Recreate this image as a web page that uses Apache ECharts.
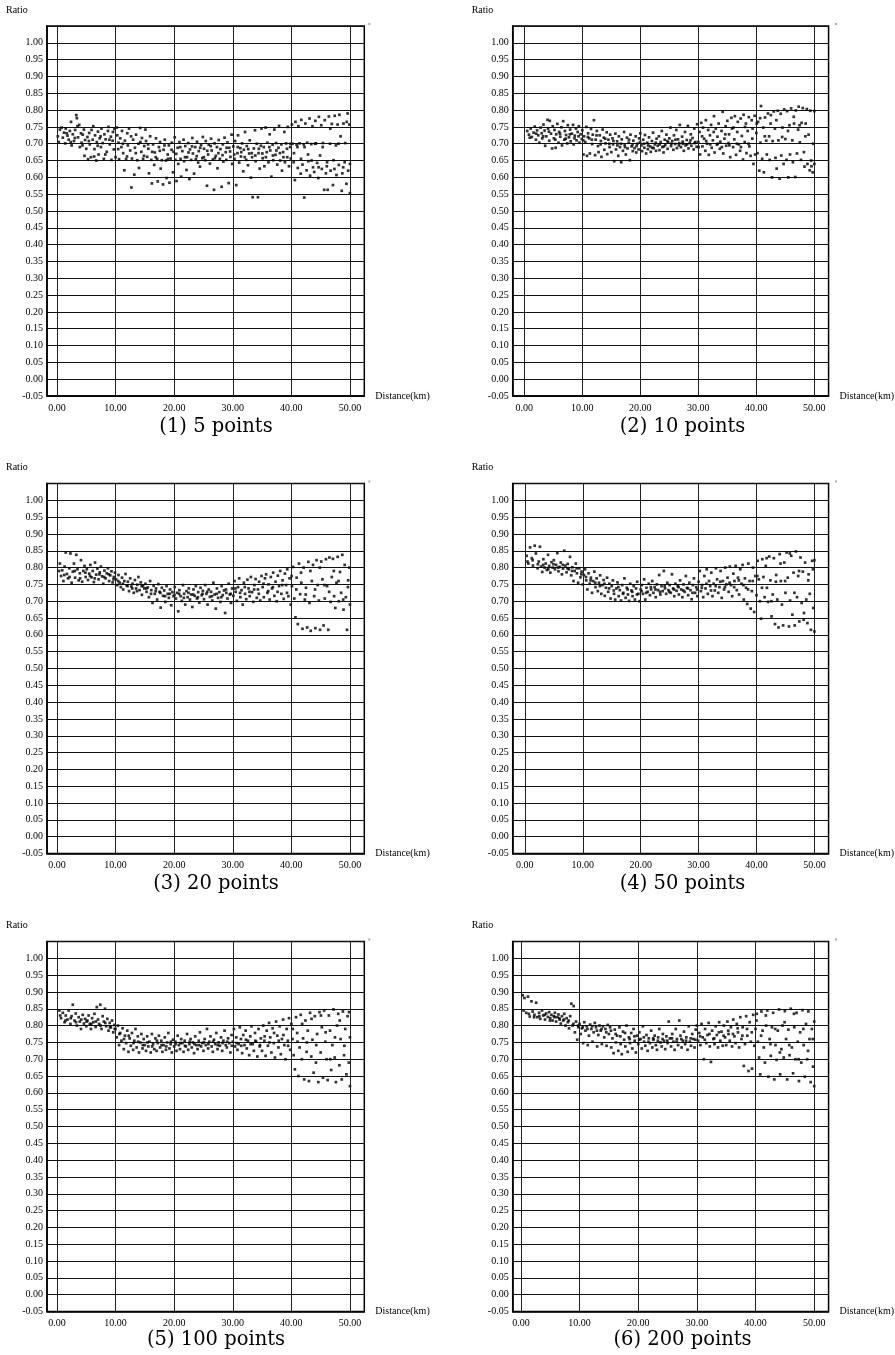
<!DOCTYPE html>
<html>
<head>
<meta charset="utf-8">
<script src="https://cdn.jsdelivr.net/npm/echarts@6/dist/echarts.min.js"></script>
<style>
html, body { margin: 0; padding: 0; background: #fff; }
#container { width: 895px; height: 1355px; }
</style>
</head>
<body>
<div id="container"></div>
<script>
// panel captions and axis ticks
var captions = ['(1) 5 points', '(2) 10 points', '(3) 20 points', '(4) 50 points', '(5) 100 points', '(6) 200 points'];
var xTicks = [0, 10, 20, 30, 40, 50];

// [distance km, ratio]
var pts5 = [
[0.3,.705],[0.5,.742],[0.8,.748],[1.0,.718],[1.2,.733],[1.4,.701],[1.5,.745],[1.8,.724],[2.0,.712],[2.2,.738],[2.4,.765],[2.5,.695],[2.7,.728],[2.9,.708],[3.1,.741],[3.3,.785],[3.4,.776],[3.5,.752],[3.6,.719],[3.8,.756],[3.9,.690],[4.1,.731],[4.2,.703],[4.4,.727],[4.6,.742],[4.7,.664],[4.8,.711],[5.0,.685],
[5.2,.720],[5.3,.654],[5.5,.732],[5.6,.698],[5.8,.660],[5.9,.741],[6.1,.712],[6.2,.752],[6.4,.684],[6.5,.725],[6.7,.650],[6.8,.705],[7.0,.736],[7.1,.668],[7.3,.716],[7.5,.690],[7.6,.745],[7.8,.702],[8.0,.655],[8.1,.728],[8.3,.713],[8.5,.676],[8.7,.738],[8.8,.750],[9.0,.698],[9.2,.721],[9.3,.652],[9.5,.709],[9.7,.683],[9.8,.744],[10.0,.660],
[10.2,.748],[10.3,.725],[10.5,.703],[10.6,.654],[10.8,.716],[11.0,.690],[11.1,.738],[11.3,.672],[11.5,.621],[11.6,.709],[11.8,.654],[12.0,.731],[12.1,.695],[12.3,.745],[12.5,.680],[12.7,.570],[12.8,.656],[13.0,.712],[13.2,.608],[13.3,.688],[13.5,.727],[13.7,.651],[13.9,.700],[14.0,.628],[14.2,.747],[14.4,.676],[14.5,.717],[14.7,.655],[14.9,.693],
[15.1,.742],[15.2,.708],[15.4,.661],[15.6,.685],[15.7,.612],[15.9,.722],[16.1,.652],[16.2,.582],[16.4,.698],[16.6,.637],[16.7,.674],[16.9,.716],[17.1,.655],[17.2,.588],[17.4,.690],[17.6,.705],[17.7,.626],[17.9,.651],[18.1,.579],[18.2,.682],[18.4,.712],[18.6,.650],[18.7,.598],[18.9,.668],[19.1,.695],[19.2,.584],[19.4,.656],[19.6,.703],[19.8,.615],[19.9,.676],
[20.1,.719],[20.2,.652],[20.4,.589],[20.6,.688],[20.7,.640],[20.9,.705],[21.1,.655],[21.2,.602],[21.4,.678],[21.6,.712],[21.7,.648],[21.9,.693],[22.1,.622],[22.2,.660],[22.4,.702],[22.6,.595],[22.7,.683],[22.9,.652],[23.1,.717],[23.2,.671],[23.4,.611],[23.6,.690],[23.7,.654],[23.9,.706],[24.1,.644],[24.2,.678],[24.4,.632],[24.6,.696],[24.8,.657],[24.9,.720],
[25.1,.685],[25.3,.651],[25.4,.708],[25.6,.575],[25.8,.668],[25.9,.697],[26.1,.641],[26.3,.715],[26.4,.680],[26.6,.653],[26.8,.563],[26.9,.701],[27.1,.664],[27.3,.690],[27.4,.627],[27.6,.711],[27.8,.655],[27.9,.684],[28.1,.572],[28.3,.698],[28.4,.647],[28.6,.718],[28.8,.675],[28.9,.652],[29.1,.704],[29.3,.583],[29.4,.688],[29.6,.661],[29.8,.727],[29.9,.640],
[30.1,.692],[30.3,.655],[30.4,.708],[30.6,.577],[30.8,.672],[30.9,.725],[31.1,.644],[31.3,.687],[31.4,.662],[31.6,.701],[31.8,.618],[31.9,.682],[32.1,.735],[32.3,.652],[32.4,.693],[32.6,.636],[32.8,.671],[32.9,.710],[33.1,.599],[33.3,.660],[33.4,.541],[33.6,.686],[33.8,.740],[33.9,.648],[34.1,.700],[34.3,.541],[34.4,.672],[34.6,.626],[34.8,.694],[34.9,.745],
[35.1,.657],[35.3,.690],[35.4,.633],[35.6,.748],[35.8,.675],[35.9,.703],[36.1,.645],[36.3,.728],[36.4,.680],[36.6,.602],[36.8,.697],[36.9,.651],[37.1,.742],[37.3,.667],[37.4,.702],[37.6,.638],[37.8,.688],[37.9,.753],[38.1,.650],[38.3,.698],[38.4,.620],[38.6,.675],[38.8,.735],[38.9,.645],[39.1,.701],[39.3,.660],[39.4,.750],[39.6,.633],[39.8,.690],[39.9,.656],
[40.1,.757],[40.2,.700],[40.4,.645],[40.6,.592],[40.7,.765],[40.9,.697],[41.1,.628],[41.2,.752],[41.4,.701],[41.6,.611],[41.7,.771],[41.9,.638],[42.1,.698],[42.2,.540],[42.4,.760],[42.6,.621],[42.7,.703],[42.9,.648],[43.1,.775],[43.2,.605],[43.4,.699],[43.6,.752],[43.7,.630],[43.9,.616],[44.1,.768],[44.2,.701],[44.4,.643],[44.6,.598],[44.7,.780],[44.9,.665],
[45.1,.755],[45.2,.625],[45.4,.702],[45.6,.563],[45.7,.770],[45.9,.612],[46.1,.645],[46.2,.563],[46.4,.781],[46.6,.700],[46.7,.620],[46.9,.759],[47.1,.577],[47.2,.651],[47.4,.783],[47.6,.695],[47.7,.607],[47.9,.757],[48.1,.637],[48.2,.786],[48.4,.722],[48.6,.560],[48.7,.612],[48.9,.760],[49.1,.645],[49.2,.702],[49.4,.581],[49.6,.790],[49.7,.620],[49.9,.757],[50.0,.553],[50.0,.640],
[0.15,.722],[1.65,.731],[2.35,.705],[3.05,.717],[4.35,.695],[5.45,.708],[6.35,.662],[6.95,.694],[7.45,.722],[8.25,.668],[8.95,.712],[9.55,.735],[10.45,.684],[11.25,.700],[11.95,.662],[12.65,.722],[13.45,.672],[14.25,.705],[14.85,.664],[15.55,.698],[16.25,.676],[16.85,.660],[17.55,.679],[18.35,.695],[18.95,.655],[19.55,.682],[20.35,.670],[21.05,.690],[21.85,.660],[22.45,.674],[23.05,.692],[23.85,.663],[24.45,.688],[25.05,.660],[25.65,.679],[26.25,.693],[26.95,.657],[27.55,.672],[28.25,.666],[28.95,.688],[29.55,.677],[30.25,.668],[30.85,.690],[31.45,.675],[32.05,.660],[32.65,.684],[33.25,.672],[33.85,.665],[34.45,.685],[35.05,.671],[35.65,.660],[36.25,.690],[36.85,.665],[37.45,.680],[38.05,.672],[38.65,.660],[39.25,.685],[39.85,.700],[40.45,.672],[41.05,.690],[41.65,.655],[42.25,.690],[42.85,.668],[43.45,.650],[44.05,.700],[44.65,.630],[45.35,.690],[46.05,.633],[46.65,.745],[47.35,.625],[48.05,.700],[48.85,.630],[49.45,.765]
];

var pts10 = [
[0.5,.738],[0.8,.727],[1.1,.745],[1.3,.720],[1.6,.733],[1.8,.751],[2.0,.712],[2.2,.740],[2.4,.725],[2.6,.703],[2.8,.748],[3.0,.731],[3.1,.716],[3.3,.757],[3.5,.739],[3.6,.694],[3.8,.722],[4.0,.771],[4.1,.745],[4.3,.709],[4.4,.768],[4.6,.730],[4.8,.686],[4.9,.752],
[5.1,.716],[5.2,.741],[5.4,.688],[5.5,.728],[5.7,.759],[5.9,.703],[6.0,.735],[6.2,.721],[6.4,.749],[6.5,.695],[6.7,.767],[6.9,.712],[7.0,.738],[7.2,.726],[7.4,.701],[7.5,.755],[7.7,.719],[7.9,.742],[8.0,.707],[8.2,.730],[8.4,.756],[8.5,.698],[8.7,.724],[8.9,.745],[9.0,.710],[9.2,.735],[9.4,.752],[9.5,.703],[9.7,.728],[9.9,.714],
[10.0,.740],[10.2,.668],[10.3,.722],[10.5,.705],[10.7,.750],[10.8,.664],[11.0,.731],[11.2,.716],[11.3,.671],[11.5,.744],[11.7,.699],[11.8,.727],[12.0,.770],[12.2,.666],[12.3,.712],[12.5,.738],[12.7,.693],[12.8,.675],[13.0,.725],[13.2,.708],[13.3,.661],[13.5,.742],[13.7,.718],[13.8,.682],[14.0,.701],[14.2,.734],[14.3,.669],[14.5,.712],[14.7,.690],[14.8,.727],
[15.0,.675],[15.2,.716],[15.3,.698],[15.5,.648],[15.7,.730],[15.8,.683],[16.0,.707],[16.2,.664],[16.3,.722],[16.5,.690],[16.7,.645],[16.8,.713],[17.0,.679],[17.2,.735],[17.3,.697],[17.5,.668],[17.7,.718],[17.8,.686],[18.0,.703],[18.2,.651],[18.3,.727],[18.5,.692],[18.7,.678],[18.8,.709],[19.0,.687],[19.2,.722],[19.3,.674],[19.5,.700],[19.7,.683],[19.8,.716],
[20.0,.731],[20.2,.695],[20.3,.678],[20.5,.712],[20.7,.688],[20.8,.726],[21.0,.671],[21.2,.703],[21.3,.684],[21.5,.719],[21.7,.692],[21.8,.676],[22.0,.708],[22.2,.733],[22.3,.687],[22.5,.698],[22.7,.679],[22.8,.715],[23.0,.694],[23.2,.722],[23.3,.681],[23.5,.705],[23.7,.738],[23.8,.690],[24.0,.674],[24.2,.712],[24.3,.696],[24.5,.727],[24.7,.685],[24.8,.704],
[25.0,.716],[25.2,.748],[25.3,.693],[25.5,.708],[25.7,.682],[25.8,.725],[26.0,.699],[26.2,.741],[26.3,.687],[26.5,.713],[26.7,.702],[26.8,.756],[27.0,.690],[27.2,.721],[27.3,.706],[27.5,.679],[27.7,.735],[27.8,.695],[28.0,.711],[28.2,.753],[28.3,.686],[28.5,.702],[28.7,.728],[28.8,.694],[29.0,.717],[29.2,.683],[29.3,.745],[29.5,.705],[29.7,.691],[29.8,.758],
[30.0,.705],[30.2,.735],[30.3,.668],[30.5,.762],[30.7,.692],[30.8,.748],[31.0,.715],[31.2,.679],[31.3,.770],[31.5,.700],[31.7,.741],[31.8,.667],[32.0,.725],[32.2,.756],[32.3,.688],[32.5,.710],[32.7,.782],[32.8,.674],[33.0,.745],[33.2,.697],[33.3,.721],[33.5,.760],[33.7,.685],[33.8,.706],[34.0,.738],[34.2,.795],[34.3,.671],[34.5,.715],[34.7,.752],[34.8,.694],
[35.0,.768],[35.2,.702],[35.3,.728],[35.5,.660],[35.7,.777],[35.8,.745],[36.0,.690],[36.2,.713],[36.3,.782],[36.5,.667],[36.7,.735],[36.8,.765],[37.0,.698],[37.2,.679],[37.3,.775],[37.5,.723],[37.7,.653],[37.8,.786],[38.0,.705],[38.2,.760],[38.3,.672],[38.5,.738],[38.7,.779],[38.8,.692],[39.0,.664],[39.2,.770],[39.3,.715],[39.5,.640],[39.7,.783],[39.8,.668],
[40.0,.732],[40.2,.672],[40.3,.765],[40.5,.620],[40.7,.703],[40.8,.812],[41.0,.655],[41.2,.748],[41.3,.615],[41.5,.778],[41.7,.709],[41.8,.668],[42.0,.790],[42.2,.722],[42.3,.652],[42.5,.785],[42.7,.600],[42.8,.708],[43.0,.796],[43.2,.745],[43.3,.658],[43.5,.626],[43.7,.798],[43.8,.710],[44.0,.596],[44.2,.789],[44.3,.665],[44.5,.748],[44.7,.640],[44.8,.802],
[45.0,.714],[45.2,.652],[45.3,.797],[45.5,.600],[45.7,.755],[45.8,.668],[46.0,.805],[46.2,.710],[46.3,.645],[46.5,.760],[46.7,.601],[46.8,.799],[47.0,.671],[47.2,.742],[47.3,.810],[47.5,.704],[47.7,.652],[47.8,.762],[48.0,.806],[48.2,.675],[48.3,.632],[48.5,.760],[48.7,.803],[48.8,.640],[49.0,.727],[49.2,.621],[49.3,.798],[49.5,.633],[49.7,.615],[49.8,.700],[50.0,.640],[50.0,.797],
[0.95,.718],[2.05,.730],[3.25,.722],[4.25,.736],[5.35,.712],[6.15,.730],[7.15,.715],[7.85,.728],[8.65,.716],[9.35,.722],[10.15,.710],[10.95,.720],[11.65,.712],[12.45,.725],[13.15,.698],[13.95,.715],[14.65,.700],[15.35,.708],[16.05,.695],[16.65,.700],[17.35,.690],[18.05,.712],[18.65,.698],[19.35,.693],[19.95,.705],[20.65,.700],[21.35,.695],[22.05,.688],[22.65,.703],[23.35,.698],[24.05,.692],[24.65,.708],[25.35,.700],[26.05,.712],[26.65,.695],[27.35,.700],[28.05,.698],[28.65,.710],[29.35,.702],[30.05,.690],[30.65,.722],[31.35,.708],[32.05,.698],[32.65,.735],[33.35,.700],[34.05,.690],[34.65,.728],[35.35,.695],[36.05,.748],[36.65,.700],[37.35,.690],[38.05,.750],[38.65,.700],[39.35,.745],[40.05,.760],[40.65,.776],[41.45,.722],[42.45,.760],[43.45,.770],[44.45,.720],[45.45,.738],[46.45,.780],[47.45,.755],[48.45,.722],[49.45,.650]
];

var pts20 = [
[0.5,.812],[0.7,.775],[0.9,.792],[1.1,.760],[1.3,.803],[1.5,.845],[1.7,.781],[1.9,.768],[2.1,.798],[2.3,.842],[2.5,.755],[2.7,.788],[2.9,.812],[3.1,.770],[3.3,.838],[3.5,.795],[3.7,.762],[3.9,.783],[4.1,.822],[4.3,.758],[4.5,.790],[4.7,.805],[4.9,.772],
[5.1,.795],[5.3,.763],[5.5,.782],[5.7,.808],[5.9,.771],[6.1,.790],[6.3,.757],[6.5,.815],[6.7,.779],[6.9,.797],[7.1,.765],[7.3,.786],[7.5,.803],[7.7,.774],[7.9,.752],[8.1,.791],[8.3,.768],[8.5,.783],[8.7,.798],[8.9,.760],[9.1,.777],[9.3,.789],[9.5,.756],[9.7,.772],[9.9,.785],
[10.1,.765],[10.3,.748],[10.5,.778],[10.7,.755],[10.9,.742],[11.1,.770],[11.3,.735],[11.5,.760],[11.7,.781],[11.9,.747],[12.1,.758],[12.3,.730],[12.5,.768],[12.7,.744],[12.9,.752],[13.1,.725],[13.3,.763],[13.5,.738],[13.7,.749],[13.9,.772],[14.1,.733],[14.3,.756],[14.5,.719],[14.7,.745],[14.9,.738],
[15.1,.752],[15.3,.728],[15.5,.741],[15.7,.712],[15.9,.760],[16.1,.733],[16.3,.695],[16.5,.746],[16.7,.722],[16.9,.738],[17.1,.705],[17.3,.751],[17.5,.728],[17.7,.681],[17.9,.740],[18.1,.716],[18.3,.732],[18.5,.698],[18.7,.745],[18.9,.722],[19.1,.710],[19.3,.735],[19.5,.688],[19.7,.727],[19.9,.715],
[20.1,.742],[20.3,.708],[20.5,.725],[20.7,.670],[20.9,.733],[21.1,.715],[21.3,.701],[21.5,.748],[21.7,.722],[21.9,.690],[22.1,.730],[22.3,.712],[22.5,.738],[22.7,.705],[22.9,.720],[23.1,.683],[23.3,.735],[23.5,.716],[23.7,.745],[23.9,.708],[24.1,.727],[24.3,.696],[24.5,.740],[24.7,.718],[24.9,.731],
[25.1,.706],[25.3,.748],[25.5,.722],[25.7,.690],[25.9,.735],[26.1,.713],[26.3,.728],[26.5,.702],[26.7,.755],[26.9,.720],[27.1,.678],[27.3,.738],[27.5,.710],[27.7,.727],[27.9,.698],[28.1,.745],[28.3,.718],[28.5,.732],[28.7,.665],[28.9,.725],[29.1,.708],[29.3,.752],[29.5,.720],[29.7,.695],[29.9,.738],
[30.1,.716],[30.3,.760],[30.5,.728],[30.7,.701],[30.9,.742],[31.1,.768],[31.3,.712],[31.5,.733],[31.7,.690],[31.9,.755],[32.1,.722],[32.3,.706],[32.5,.764],[32.7,.738],[32.9,.715],[33.1,.772],[33.3,.727],[33.5,.698],[33.7,.748],[33.9,.766],[34.1,.710],[34.3,.735],[34.5,.758],[34.7,.702],[34.9,.775],
[35.1,.742],[35.3,.712],[35.5,.768],[35.7,.780],[35.9,.725],[36.1,.750],[36.3,.705],[36.5,.772],[36.7,.738],[36.9,.785],[37.1,.716],[37.3,.758],[37.5,.700],[37.7,.776],[37.9,.745],[38.1,.790],[38.3,.722],[38.5,.762],[38.7,.707],[38.9,.782],[39.1,.748],[39.3,.795],[39.5,.715],[39.7,.768],[39.9,.690],
[40.1,.745],[40.3,.802],[40.5,.708],[40.7,.652],[40.9,.770],[41.1,.632],[41.3,.812],[41.5,.721],[41.7,.755],[41.9,.618],[42.1,.800],[42.3,.705],[42.5,.740],[42.7,.622],[42.9,.817],[43.1,.695],[43.3,.612],[43.5,.760],[43.7,.808],[43.9,.715],[44.1,.620],[44.3,.822],[44.5,.748],[44.7,.702],[44.9,.615],
[45.1,.818],[45.3,.765],[45.5,.628],[45.7,.708],[45.9,.825],[46.1,.745],[46.3,.615],[46.5,.830],[46.7,.698],[46.9,.772],[47.1,.826],[47.3,.715],[47.5,.680],[47.7,.755],[47.9,.832],[48.1,.700],[48.3,.787],[48.5,.725],[48.7,.838],[48.9,.675],[49.1,.808],[49.3,.712],[49.5,.615],[49.7,.762],[49.9,.800],[50.0,.690],
[0.35,.790],[1.25,.778],[2.15,.772],[3.05,.790],[3.95,.768],[4.85,.785],[5.65,.775],[6.45,.768],[7.25,.780],[8.05,.772],[8.85,.780],[9.65,.765],[10.45,.760],[11.25,.752],[12.05,.745],[12.85,.738],[13.65,.730],[14.45,.745],[15.25,.738],[16.05,.722],[16.85,.730],[17.65,.725],[18.45,.715],[19.25,.722],[20.05,.718],[20.85,.722],[21.65,.710],[22.45,.725],[23.25,.720],[24.05,.712],[24.85,.722],[25.65,.728],[26.45,.715],[27.25,.722],[28.05,.712],[28.85,.735],[29.65,.722],[30.45,.738],[31.25,.725],[32.05,.742],[32.85,.728],[33.65,.735],[34.45,.722],[35.25,.752],[36.05,.730],[36.85,.742],[37.65,.728],[38.45,.748],[39.25,.725],[40.05,.775],[40.85,.735],[41.65,.785],[42.45,.720],[43.25,.790],[44.05,.735],[44.85,.800],[45.65,.748],[46.45,.728],[47.25,.790],[48.05,.760],[48.85,.705],[49.65,.742]
];

var pts50 = [
[0.3,.835],[0.6,.812],[0.9,.860],[1.2,.828],[1.4,.806],[1.7,.865],[1.9,.842],[2.2,.798],[2.4,.818],[2.6,.862],[2.8,.803],[3.0,.787],[3.2,.825],[3.4,.800],[3.6,.812],[3.8,.793],[4.0,.838],[4.2,.805],[4.4,.785],[4.6,.816],[4.8,.800],
[5.0,.822],[5.2,.795],[5.4,.808],[5.6,.843],[5.8,.789],[6.0,.802],[6.2,.815],[6.4,.780],[6.6,.797],[6.8,.850],[7.0,.806],[7.2,.786],[7.4,.811],[7.6,.795],[7.8,.832],[8.0,.777],[8.2,.801],[8.4,.760],[8.6,.790],[8.8,.812],[9.0,.783],[9.2,.755],[9.4,.798],[9.6,.771],[9.8,.788],[10.0,.750],
[10.2,.778],[10.4,.795],[10.6,.762],[10.8,.735],[11.0,.783],[11.2,.752],[11.4,.770],[11.6,.725],[11.8,.760],[12.0,.788],[12.2,.742],[12.4,.768],[12.6,.730],[12.8,.755],[13.0,.777],[13.2,.722],[13.4,.748],[13.6,.763],[13.8,.716],[14.0,.740],[14.2,.770],[14.4,.728],[14.6,.752],[14.8,.708],
[15.0,.745],[15.2,.762],[15.4,.722],[15.6,.705],[15.8,.738],[16.0,.756],[16.2,.715],[16.4,.733],[16.6,.702],[16.8,.748],[17.0,.725],[17.2,.768],[17.4,.710],[17.6,.740],[17.8,.720],[18.0,.701],[18.2,.752],[18.4,.732],[18.6,.715],[18.8,.745],[19.0,.705],[19.2,.738],[19.4,.758],[19.6,.722],[19.8,.700],
[20.0,.735],[20.2,.748],[20.4,.722],[20.6,.765],[20.8,.705],[21.0,.740],[21.2,.728],[21.4,.752],[21.6,.718],[21.8,.735],[22.0,.760],[22.2,.725],[22.4,.742],[22.6,.712],[22.8,.750],[23.0,.733],[23.2,.778],[23.4,.720],[23.6,.745],[23.8,.730],[24.0,.790],[24.2,.738],[24.4,.722],[24.6,.755],[24.8,.733],
[25.0,.748],[25.2,.725],[25.4,.780],[25.6,.738],[25.8,.715],[26.0,.752],[26.2,.731],[26.4,.745],[26.6,.720],[26.8,.762],[27.0,.735],[27.2,.712],[27.4,.750],[27.6,.728],[27.8,.775],[28.0,.740],[28.2,.718],[28.4,.755],[28.6,.733],[28.8,.706],[29.0,.748],[29.2,.768],[29.4,.725],[29.6,.742],[29.8,.715],
[30.0,.758],[30.2,.790],[30.4,.730],[30.6,.748],[30.8,.712],[31.0,.775],[31.2,.738],[31.4,.795],[31.6,.722],[31.8,.760],[32.0,.745],[32.2,.785],[32.4,.715],[32.6,.752],[32.8,.732],[33.0,.798],[33.2,.765],[33.4,.725],[33.6,.742],[33.8,.790],[34.0,.710],[34.2,.760],[34.4,.735],[34.6,.800],[34.8,.750],
[35.0,.770],[35.2,.728],[35.4,.803],[35.6,.748],[35.8,.715],[36.0,.782],[36.2,.760],[36.4,.805],[36.6,.733],[36.8,.770],[37.0,.720],[37.2,.795],[37.4,.752],[37.6,.808],[37.8,.705],[38.0,.768],[38.2,.740],[38.4,.692],[38.6,.812],[38.8,.760],[39.0,.678],[39.2,.730],[39.4,.800],[39.6,.668],[39.8,.775],
[40.0,.718],[40.2,.820],[40.4,.765],[40.6,.700],[40.8,.648],[41.0,.825],[41.2,.772],[41.4,.712],[41.6,.805],[41.8,.740],[42.0,.698],[42.2,.833],[42.4,.762],[42.6,.655],[42.8,.720],[43.0,.828],[43.2,.632],[43.4,.778],[43.6,.705],[43.8,.622],[44.0,.840],[44.2,.760],[44.4,.690],[44.6,.628],[44.8,.815],
[45.0,.725],[45.2,.845],[45.4,.770],[45.6,.625],[45.8,.702],[46.0,.835],[46.2,.660],[46.4,.785],[46.6,.628],[46.8,.848],[47.0,.712],[47.2,.775],[47.4,.640],[47.6,.830],[47.8,.695],[48.0,.788],[48.2,.665],[48.4,.815],[48.6,.705],[48.8,.635],[49.0,.780],[49.2,.722],[49.4,.615],[49.6,.820],[49.8,.680],[50.0,.610],[50.0,.822],
[0.45,.818],[1.35,.822],[2.25,.810],[3.15,.808],[4.05,.795],[4.95,.810],[5.75,.800],[6.55,.808],[7.35,.798],[8.15,.790],[8.95,.798],[9.75,.780],[10.55,.772],[11.35,.762],[12.15,.755],[12.95,.745],[13.75,.752],[14.55,.738],[15.35,.732],[16.15,.742],[16.95,.722],[17.75,.735],[18.55,.728],[19.35,.720],[20.15,.730],[20.95,.725],[21.75,.742],[22.55,.735],[23.35,.728],[24.15,.745],[24.95,.728],[25.75,.735],[26.55,.742],[27.35,.732],[28.15,.738],[28.95,.725],[29.75,.735],[30.55,.740],[31.35,.752],[32.15,.732],[32.95,.745],[33.75,.758],[34.55,.742],[35.35,.755],[36.15,.742],[36.95,.762],[37.75,.748],[38.55,.735],[39.35,.760],[40.15,.775],[40.95,.740],[41.75,.828],[42.55,.700],[43.35,.758],[44.15,.812],[44.95,.760],[45.75,.842],[46.55,.725],[47.35,.790],[48.15,.645],[48.95,.762],[49.75,.795]
];

var pts100 = [
[0.4,.845],[0.7,.822],[1.0,.838],[1.3,.810],[1.5,.830],[1.8,.818],[2.0,.845],[2.3,.805],[2.5,.828],[2.7,.862],[3.0,.815],[3.2,.836],[3.4,.800],[3.7,.825],[3.9,.812],[4.1,.790],[4.4,.832],[4.6,.806],[4.8,.820],
[5.0,.798],[5.2,.815],[5.4,.830],[5.6,.805],[5.8,.790],[6.0,.822],[6.2,.810],[6.4,.835],[6.6,.796],[6.8,.855],[7.0,.818],[7.2,.805],[7.4,.862],[7.6,.790],[7.8,.828],[8.0,.812],[8.2,.850],[8.4,.798],[8.6,.820],[8.8,.785],[9.0,.808],[9.2,.795],[9.4,.815],[9.6,.780],[9.8,.802],
[10.0,.790],[10.2,.765],[10.4,.800],[10.6,.742],[10.8,.778],[11.0,.755],[11.2,.792],[11.4,.730],[11.6,.770],[11.8,.748],[12.0,.785],[12.2,.722],[12.4,.762],[12.6,.740],[12.8,.778],[13.0,.728],[13.2,.755],[13.4,.790],[13.6,.735],[13.8,.768],[14.0,.720],[14.2,.750],[14.4,.775],[14.6,.732],[14.8,.760],
[15.0,.742],[15.2,.725],[15.4,.768],[15.6,.738],[15.8,.752],[16.0,.720],[16.2,.775],[16.4,.745],[16.6,.730],[16.8,.762],[17.0,.725],[17.2,.748],[17.4,.770],[17.6,.735],[17.8,.755],[18.0,.722],[18.2,.742],[18.4,.765],[18.6,.728],[18.8,.750],[19.0,.778],[19.2,.732],[19.4,.745],[19.6,.720],[19.8,.758],
[20.0,.738],[20.2,.752],[20.4,.725],[20.6,.770],[20.8,.742],[21.0,.730],[21.2,.760],[21.4,.748],[21.6,.722],[21.8,.755],[22.0,.738],[22.2,.775],[22.4,.728],[22.6,.745],[22.8,.760],[23.0,.735],[23.2,.750],[23.4,.718],[23.6,.768],[23.8,.742],[24.0,.730],[24.2,.755],[24.4,.780],[24.6,.738],[24.8,.748],
[25.0,.725],[25.2,.760],[25.4,.742],[25.6,.790],[25.8,.732],[26.0,.752],[26.2,.768],[26.4,.738],[26.6,.722],[26.8,.758],[27.0,.745],[27.2,.778],[27.4,.730],[27.6,.750],[27.8,.740],[28.0,.765],[28.2,.725],[28.4,.755],[28.6,.785],[28.8,.742],[29.0,.735],[29.2,.762],[29.4,.748],[29.6,.720],[29.8,.772],
[30.0,.752],[30.2,.790],[30.4,.738],[30.6,.765],[30.8,.728],[31.0,.745],[31.2,.795],[31.4,.760],[31.6,.718],[31.8,.772],[32.0,.742],[32.2,.785],[32.4,.732],[32.6,.755],[32.8,.712],[33.0,.768],[33.2,.798],[33.4,.745],[33.6,.725],[33.8,.778],[34.0,.752],[34.2,.708],[34.4,.790],[34.6,.738],[34.8,.762],
[35.0,.725],[35.2,.800],[35.4,.755],[35.6,.710],[35.8,.785],[36.0,.740],[36.2,.808],[36.4,.765],[36.6,.720],[36.8,.792],[37.0,.748],[37.2,.705],[37.4,.812],[37.6,.770],[37.8,.735],[38.0,.798],[38.2,.715],[38.4,.760],[38.6,.818],[38.8,.742],[39.0,.700],[39.2,.790],[39.4,.755],[39.6,.822],[39.8,.728],
[40.0,.805],[40.2,.760],[40.4,.712],[40.6,.670],[40.8,.825],[41.0,.778],[41.2,.650],[41.4,.735],[41.6,.832],[41.8,.700],[42.0,.762],[42.2,.640],[42.4,.815],[42.6,.722],[42.8,.785],[43.0,.635],[43.2,.838],[43.4,.708],[43.6,.758],[43.8,.660],[44.0,.828],[44.2,.690],[44.4,.775],[44.6,.632],[44.8,.840],
[45.0,.720],[45.2,.795],[45.4,.645],[45.6,.845],[45.8,.752],[46.0,.700],[46.2,.638],[46.4,.830],[46.6,.785],[46.8,.668],[47.0,.742],[47.2,.848],[47.4,.705],[47.6,.632],[47.8,.800],[48.0,.835],[48.2,.682],[48.4,.760],[48.6,.640],[48.8,.842],[49.0,.712],[49.2,.790],[49.4,.655],[49.6,.828],[49.8,.690],[50.0,.620],[50.0,.765],
[0.55,.830],[1.45,.815],[2.35,.822],[3.25,.810],[4.15,.818],[5.05,.812],[5.85,.805],[6.65,.812],[7.45,.800],[8.25,.808],[9.05,.795],[9.85,.790],[10.65,.775],[11.45,.760],[12.25,.770],[13.05,.748],[13.85,.752],[14.65,.742],[15.45,.750],[16.25,.738],[17.05,.755],[17.85,.742],[18.65,.738],[19.45,.752],[20.25,.745],[21.05,.748],[21.85,.740],[22.65,.752],[23.45,.745],[24.25,.742],[25.05,.750],[25.85,.745],[26.65,.752],[27.45,.742],[28.25,.748],[29.05,.752],[29.85,.740],[30.65,.748],[31.45,.740],[32.25,.758],[33.05,.745],[33.85,.755],[34.65,.742],[35.45,.768],[36.25,.750],[37.05,.778],[37.85,.755],[38.65,.772],[39.45,.740],[40.25,.790],[41.05,.752],[41.85,.805],[42.65,.750],[43.45,.820],[44.25,.742],[45.05,.830],[45.85,.780],[46.65,.700],[47.45,.765],[48.25,.815],[49.05,.740],[49.85,.840]
];

var pts200 = [
[0.3,.890],[0.6,.882],[0.9,.838],[1.2,.886],[1.5,.827],[1.8,.872],[2.0,.842],[2.3,.832],[2.6,.868],[2.8,.825],[3.1,.838],[3.3,.820],[3.6,.845],[3.8,.830],[4.1,.818],[4.3,.836],[4.6,.826],[4.8,.840],
[5.0,.822],[5.2,.832],[5.4,.815],[5.6,.828],[5.8,.838],[6.0,.812],[6.2,.825],[6.4,.833],[6.6,.818],[6.8,.806],[7.0,.828],[7.2,.815],[7.4,.835],[7.6,.800],[7.8,.822],[8.0,.810],[8.2,.792],[8.4,.828],[8.6,.865],[8.8,.800],[9.0,.858],[9.2,.780],[9.4,.812],[9.6,.758],[9.8,.795],
[10.0,.805],[10.2,.775],[10.4,.792],[10.6,.748],[10.8,.810],[11.0,.785],[11.2,.798],[11.4,.742],[11.6,.770],[11.8,.803],[12.0,.790],[12.2,.752],[12.4,.780],[12.6,.808],[12.8,.795],[13.0,.738],[13.2,.772],[13.4,.800],[13.6,.785],[13.8,.745],[14.0,.798],[14.2,.765],[14.4,.790],[14.6,.740],[14.8,.802],
[15.0,.775],[15.2,.795],[15.4,.735],[15.6,.762],[15.8,.718],[16.0,.788],[16.2,.750],[16.4,.770],[16.6,.725],[16.8,.795],[17.0,.745],[17.2,.715],[17.4,.782],[17.6,.758],[17.8,.738],[18.0,.800],[18.2,.722],[18.4,.765],[18.6,.748],[18.8,.778],[19.0,.732],[19.2,.790],[19.4,.755],[19.6,.720],[19.8,.770],
[20.0,.745],[20.2,.780],[20.4,.760],[20.6,.732],[20.8,.798],[21.0,.752],[21.2,.740],[21.4,.772],[21.6,.725],[21.8,.762],[22.0,.748],[22.2,.785],[22.4,.735],[22.6,.758],[22.8,.770],[23.0,.742],[23.2,.728],[23.4,.765],[23.6,.790],[23.8,.750],[24.0,.738],[24.2,.775],[24.4,.755],[24.6,.730],[24.8,.768],
[25.0,.748],[25.2,.812],[25.4,.762],[25.6,.738],[25.8,.775],[26.0,.752],[26.2,.728],[26.4,.790],[26.6,.760],[26.8,.742],[27.0,.815],[27.2,.770],[27.4,.735],[27.6,.755],[27.8,.782],[28.0,.745],[28.2,.765],[28.4,.728],[28.6,.798],[28.8,.752],[29.0,.740],[29.2,.775],[29.4,.760],[29.6,.735],[29.8,.788],
[30.0,.800],[30.2,.755],[30.4,.778],[30.6,.742],[30.8,.805],[31.0,.765],[31.2,.700],[31.4,.790],[31.6,.748],[31.8,.772],[32.0,.808],[32.2,.738],[32.4,.692],[32.6,.785],[32.8,.760],[33.0,.745],[33.2,.798],[33.4,.772],[33.6,.735],[33.8,.810],[34.0,.755],[34.2,.782],[34.4,.740],[34.6,.800],[34.8,.765],
[35.0,.742],[35.2,.812],[35.4,.775],[35.6,.755],[35.8,.795],[36.0,.738],[36.2,.818],[36.4,.768],[36.6,.748],[36.8,.805],[37.0,.780],[37.2,.735],[37.4,.825],[37.6,.760],[37.8,.795],[38.0,.680],[38.2,.745],[38.4,.828],[38.6,.770],[38.8,.665],[39.0,.810],[39.2,.752],[39.4,.672],[39.6,.832],[39.8,.740],
[40.0,.790],[40.2,.835],[40.4,.752],[40.6,.705],[40.8,.655],[41.0,.842],[41.2,.785],[41.4,.735],[41.6,.690],[41.8,.800],[42.0,.845],[42.2,.648],[42.4,.760],[42.6,.710],[42.8,.795],[43.0,.838],[43.2,.640],[43.4,.742],[43.6,.698],[43.8,.785],[44.0,.848],[44.2,.655],[44.4,.730],[44.6,.800],[44.8,.705],
[45.0,.843],[45.2,.760],[45.4,.640],[45.6,.788],[45.8,.712],[46.0,.850],[46.2,.735],[46.4,.658],[46.6,.795],[46.8,.700],[47.0,.838],[47.2,.752],[47.4,.635],[47.6,.780],[47.8,.690],[48.0,.846],[48.2,.742],[48.4,.648],[48.6,.805],[48.8,.700],[49.0,.842],[49.2,.760],[49.4,.632],[49.6,.790],[49.8,.678],[50.0,.620],[50.0,.812],
[0.45,.845],[1.35,.835],[2.25,.825],[3.15,.828],[4.05,.832],[4.95,.815],[5.75,.825],[6.55,.822],[7.35,.818],[8.15,.815],[8.95,.805],[9.75,.800],[10.55,.795],[11.35,.790],[12.15,.798],[12.95,.785],[13.75,.790],[14.55,.780],[15.35,.785],[16.15,.775],[16.95,.768],[17.75,.778],[18.55,.760],[19.35,.768],[20.15,.758],[20.95,.765],[21.75,.752],[22.55,.762],[23.35,.755],[24.15,.760],[24.95,.755],[25.75,.762],[26.55,.752],[27.35,.760],[28.15,.755],[28.95,.762],[29.75,.758],[30.55,.768],[31.35,.758],[32.15,.775],[32.95,.762],[33.75,.780],[34.55,.770],[35.35,.785],[36.15,.775],[36.95,.792],[37.75,.770],[38.55,.790],[39.35,.780],[40.15,.815],[40.95,.770],[41.75,.830],[42.55,.745],[43.35,.790],[44.15,.720],[44.95,.810],[45.75,.742],[46.55,.835],[47.35,.700],[48.15,.790],[48.95,.725],[49.75,.760]
];

var panels = [pts5, pts10, pts20, pts50, pts100, pts200];
var xMins = [-1.7, -2.0, -1.7, -2.1, -1.7, -1.4];
var xMax = 52.45;

var dom = document.getElementById('container');
var myChart = echarts.init(dom, null, { renderer: 'canvas' });

var serif = 'Liberation Serif';
var colLeft = [47, 512.7];
var colWidth = [317.3, 318.3];
var rowTop = [26, 483.5, 941.5];
var plotH = 370;
var capX = [216, 682.5];
var capY = [427, 884, 1340];

function yLabel(v) {
    if (v > 1.02) return '';
    if (Math.abs(v) < 1e-9) return '0.00';
    return v.toFixed(2);
}

var grids = [], xAxes = [], yAxes = [], series = [], graphics = [];
for (var i = 0; i < panels.length; i++) {
    var c = i % 2, r = Math.floor(i / 2);
    grids.push({
        left: colLeft[c], top: rowTop[r], width: colWidth[c], height: plotH,
        show: true, borderColor: '#000', borderWidth: 1.5, backgroundColor: 'transparent'
    });
    xAxes.push({
        type: 'value', gridIndex: i, min: xMins[i], max: xMax,
        name: 'Distance(km)', nameLocation: 'end', nameGap: 11,
        nameTextStyle: { fontFamily: serif, fontSize: 10, color: '#000' },
        axisLine: { show: true, onZero: false, lineStyle: { color: '#000', width: 1.5 } },
        axisTick: { show: false },
        splitLine: { show: false },
        axisLabel: {
            customValues: xTicks, margin: 7, fontFamily: serif, fontSize: 10, color: '#000',
            formatter: function(v) { return v.toFixed(2); }
        }
    });
    yAxes.push({
        type: 'value', gridIndex: i, min: -0.05, max: 1.05, interval: 0.05,
        axisLine: { show: true, onZero: false, lineStyle: { color: '#000', width: 1.5 } },
        axisTick: { show: false },
        splitLine: { show: true, lineStyle: { color: '#111', width: 1 } },
        axisLabel: { margin: 4, fontFamily: serif, fontSize: 10, color: '#000', formatter: yLabel }
    });
    series.push({
        type: 'scatter', xAxisIndex: i, yAxisIndex: i,
        symbol: 'rect', symbolSize: 2.7,
        itemStyle: { color: '#000' },
        data: panels[i],
        markLine: {
            silent: true, symbol: 'none', animation: false,
            label: { show: false },
            lineStyle: { color: '#222', width: 1, type: 'solid' },
            emphasis: { disabled: true },
            data: xTicks.map(function(v) { return { xAxis: v }; })
        }
    });
    graphics.push({
        type: 'text', left: colLeft[c] - 41, top: rowTop[r] - 21,
        style: { text: 'Ratio', fontFamily: serif, fontSize: 10, fill: '#000' }
    });
    graphics.push({
        type: 'text', x: capX[c], y: capY[r],
        style: {
            text: captions[i], fontFamily: 'DejaVu Serif', fontSize: 19.5, fill: '#000',
            textAlign: 'center', textVerticalAlign: 'middle'
        }
    });
    graphics.push({
        type: 'rect', shape: { x: colLeft[c] + colWidth[c] + 4, y: rowTop[r] - 3, width: 2, height: 2 },
        style: { fill: '#aaa' }
    });
}

option = {
    animation: false,
    backgroundColor: '#fff',
    grid: grids,
    xAxis: xAxes,
    yAxis: yAxes,
    series: series,
    graphic: graphics
};

if (option && typeof option === 'object') {
    myChart.setOption(option, true);
}
</script>
</body>
</html>
